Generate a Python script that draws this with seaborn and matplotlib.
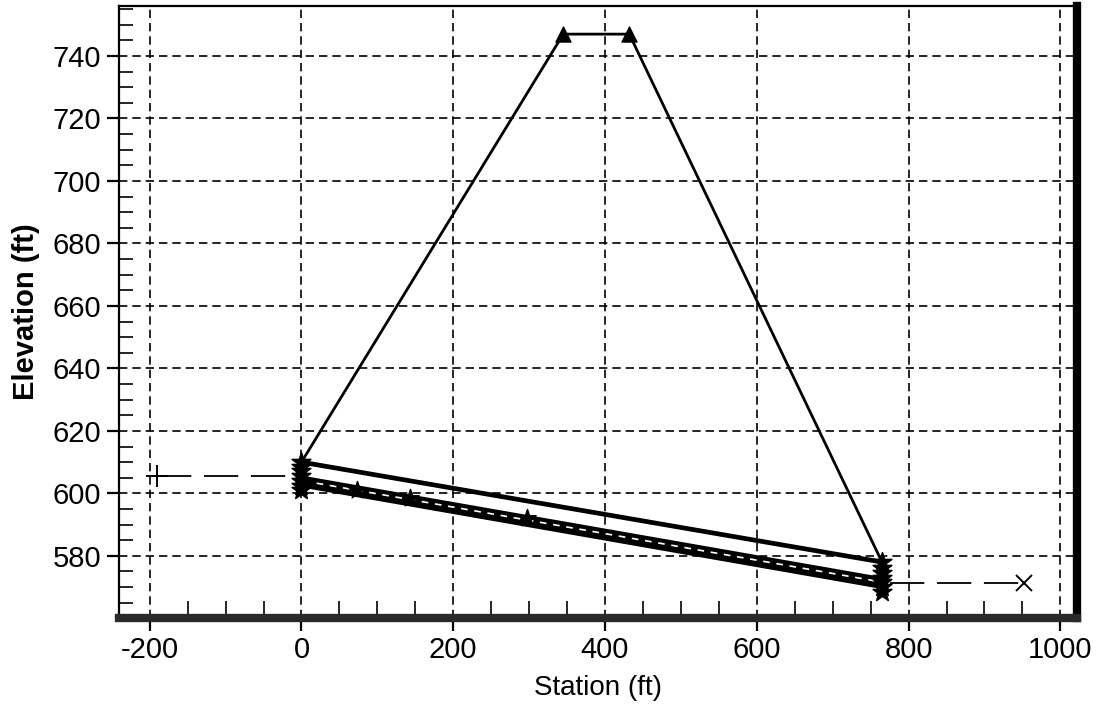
import numpy as np
import pandas as pd
import matplotlib
matplotlib.use('Agg')
import matplotlib.pyplot as plt
import seaborn as sns
from matplotlib.ticker import MultipleLocator

# Perfil da estrada (crista) e do bueiro
road_station = [0, 345, 432, 765]
road_elev = [610, 747, 747, 578]
crown_station = [0, 765]
crown_elev = [610, 578]
band_station = [0, 765]
band_elev = [603.8, 571.3]
star_station = [73, 143, 297]
star_elev = [601, 598.5, 592]
inlet_elev = [601, 602.5, 604, 605.5, 607, 608.5, 610]
outlet_elev = [568.5, 570, 571.5, 573, 574.5, 576, 578]
hw_station = [-190, 0]
hw_elev = [605.5, 605.5]
tw_station = [775, 952]
tw_elev = [571.3, 571.3]

xticks = [-200, 0, 200, 400, 600, 800, 1000]
yticks = [580, 600, 620, 640, 660, 680, 700, 720, 740]

sns.set_style('white')
plt.rcParams['font.family'] = ['Liberation Sans', 'DejaVu Sans']
plt.rcParams['axes.unicode_minus'] = False

fig = plt.figure(figsize=(10.98, 7.08), dpi=100)
ax = fig.add_axes([0.1087, 0.1271, 0.9809 - 0.1087, 0.9915 - 0.1271])

# grade
ax.grid(True, which='major', color='k', linestyle=(0, (5, 3)), linewidth=1.2)
ax.set_axisbelow(True)

# estrada
sns.lineplot(x=road_station, y=road_elev, color='k', lw=2.0, sort=False,
             estimator=None, ax=ax)
sns.scatterplot(x=road_station[1:3], y=road_elev[1:3], marker='^', s=120,
                color='k', edgecolor='k', ax=ax, zorder=5)

# bueiro
sns.lineplot(x=crown_station, y=crown_elev, color='k', lw=3.4, sort=False,
             estimator=None, ax=ax)
sns.lineplot(x=band_station, y=band_elev, color='k', lw=8.5, sort=False,
             estimator=None, ax=ax)
ax.plot([band_station[0] + 20, band_station[1] - 10],
        [band_elev[0] + 0.3 - 0.0425 * 20, band_elev[1] + 0.3 + 0.0425 * 10],
        color='white', lw=1.2, linestyle=(0, (4, 4)), zorder=4)
sns.scatterplot(x=star_station, y=star_elev, marker='*', s=170, color='k',
                edgecolor='k', ax=ax, zorder=5)
sns.scatterplot(x=[0] * len(inlet_elev), y=inlet_elev, marker='*', s=200,
                color='k', edgecolor='k', ax=ax, zorder=5)
sns.scatterplot(x=[765] * len(outlet_elev), y=outlet_elev, marker='*', s=200,
                color='k', edgecolor='k', ax=ax, zorder=5)

# nivel montante / jusante
sns.lineplot(x=hw_station, y=hw_elev, color='k', lw=1.3, sort=False,
             estimator=None, ax=ax)
ax.lines[-1].set_linestyle((0, (19, 7)))
ax.plot(hw_station[0], hw_elev[0], marker='+', color='k', ms=16, mew=1.4)
sns.lineplot(x=tw_station, y=tw_elev, color='k', lw=1.3, sort=False,
             estimator=None, ax=ax)
ax.lines[-1].set_linestyle((0, (19, 7)))
ax.plot(tw_station[1], tw_elev[1], marker='x', color='k', ms=12, mew=1.4)

ax.set_xlim(-240, 1022)
ax.set_ylim(560.1, 756)
ax.set_xticks(xticks)
ax.set_yticks(yticks)
ax.xaxis.set_minor_locator(MultipleLocator(50))
ax.yaxis.set_minor_locator(MultipleLocator(5))
ax.tick_params(which='major', direction='out', length=9, width=1.6,
               labelsize=21, colors='k', bottom=True, left=True, pad=4)
ax.tick_params(axis='x', which='minor', direction='in', length=12, width=1.4,
               bottom=True)
ax.tick_params(axis='y', which='minor', direction='in', length=10, width=1.4,
               left=True)

for s in ['left', 'top']:
    ax.spines[s].set_linewidth(1.6)
    ax.spines[s].set_color('k')
ax.spines['right'].set_linewidth(6)
ax.spines['right'].set_color('k')
ax.spines['bottom'].set_linewidth(6)
ax.spines['bottom'].set_color('#2a2a2a')

ax.set_xlabel('Station (ft)', fontsize=20, labelpad=8, color='k')
ax.set_ylabel('Elevation (ft)', fontsize=21, fontweight='bold', labelpad=9,
              color='k')

plt.savefig('out.png', dpi=100)
